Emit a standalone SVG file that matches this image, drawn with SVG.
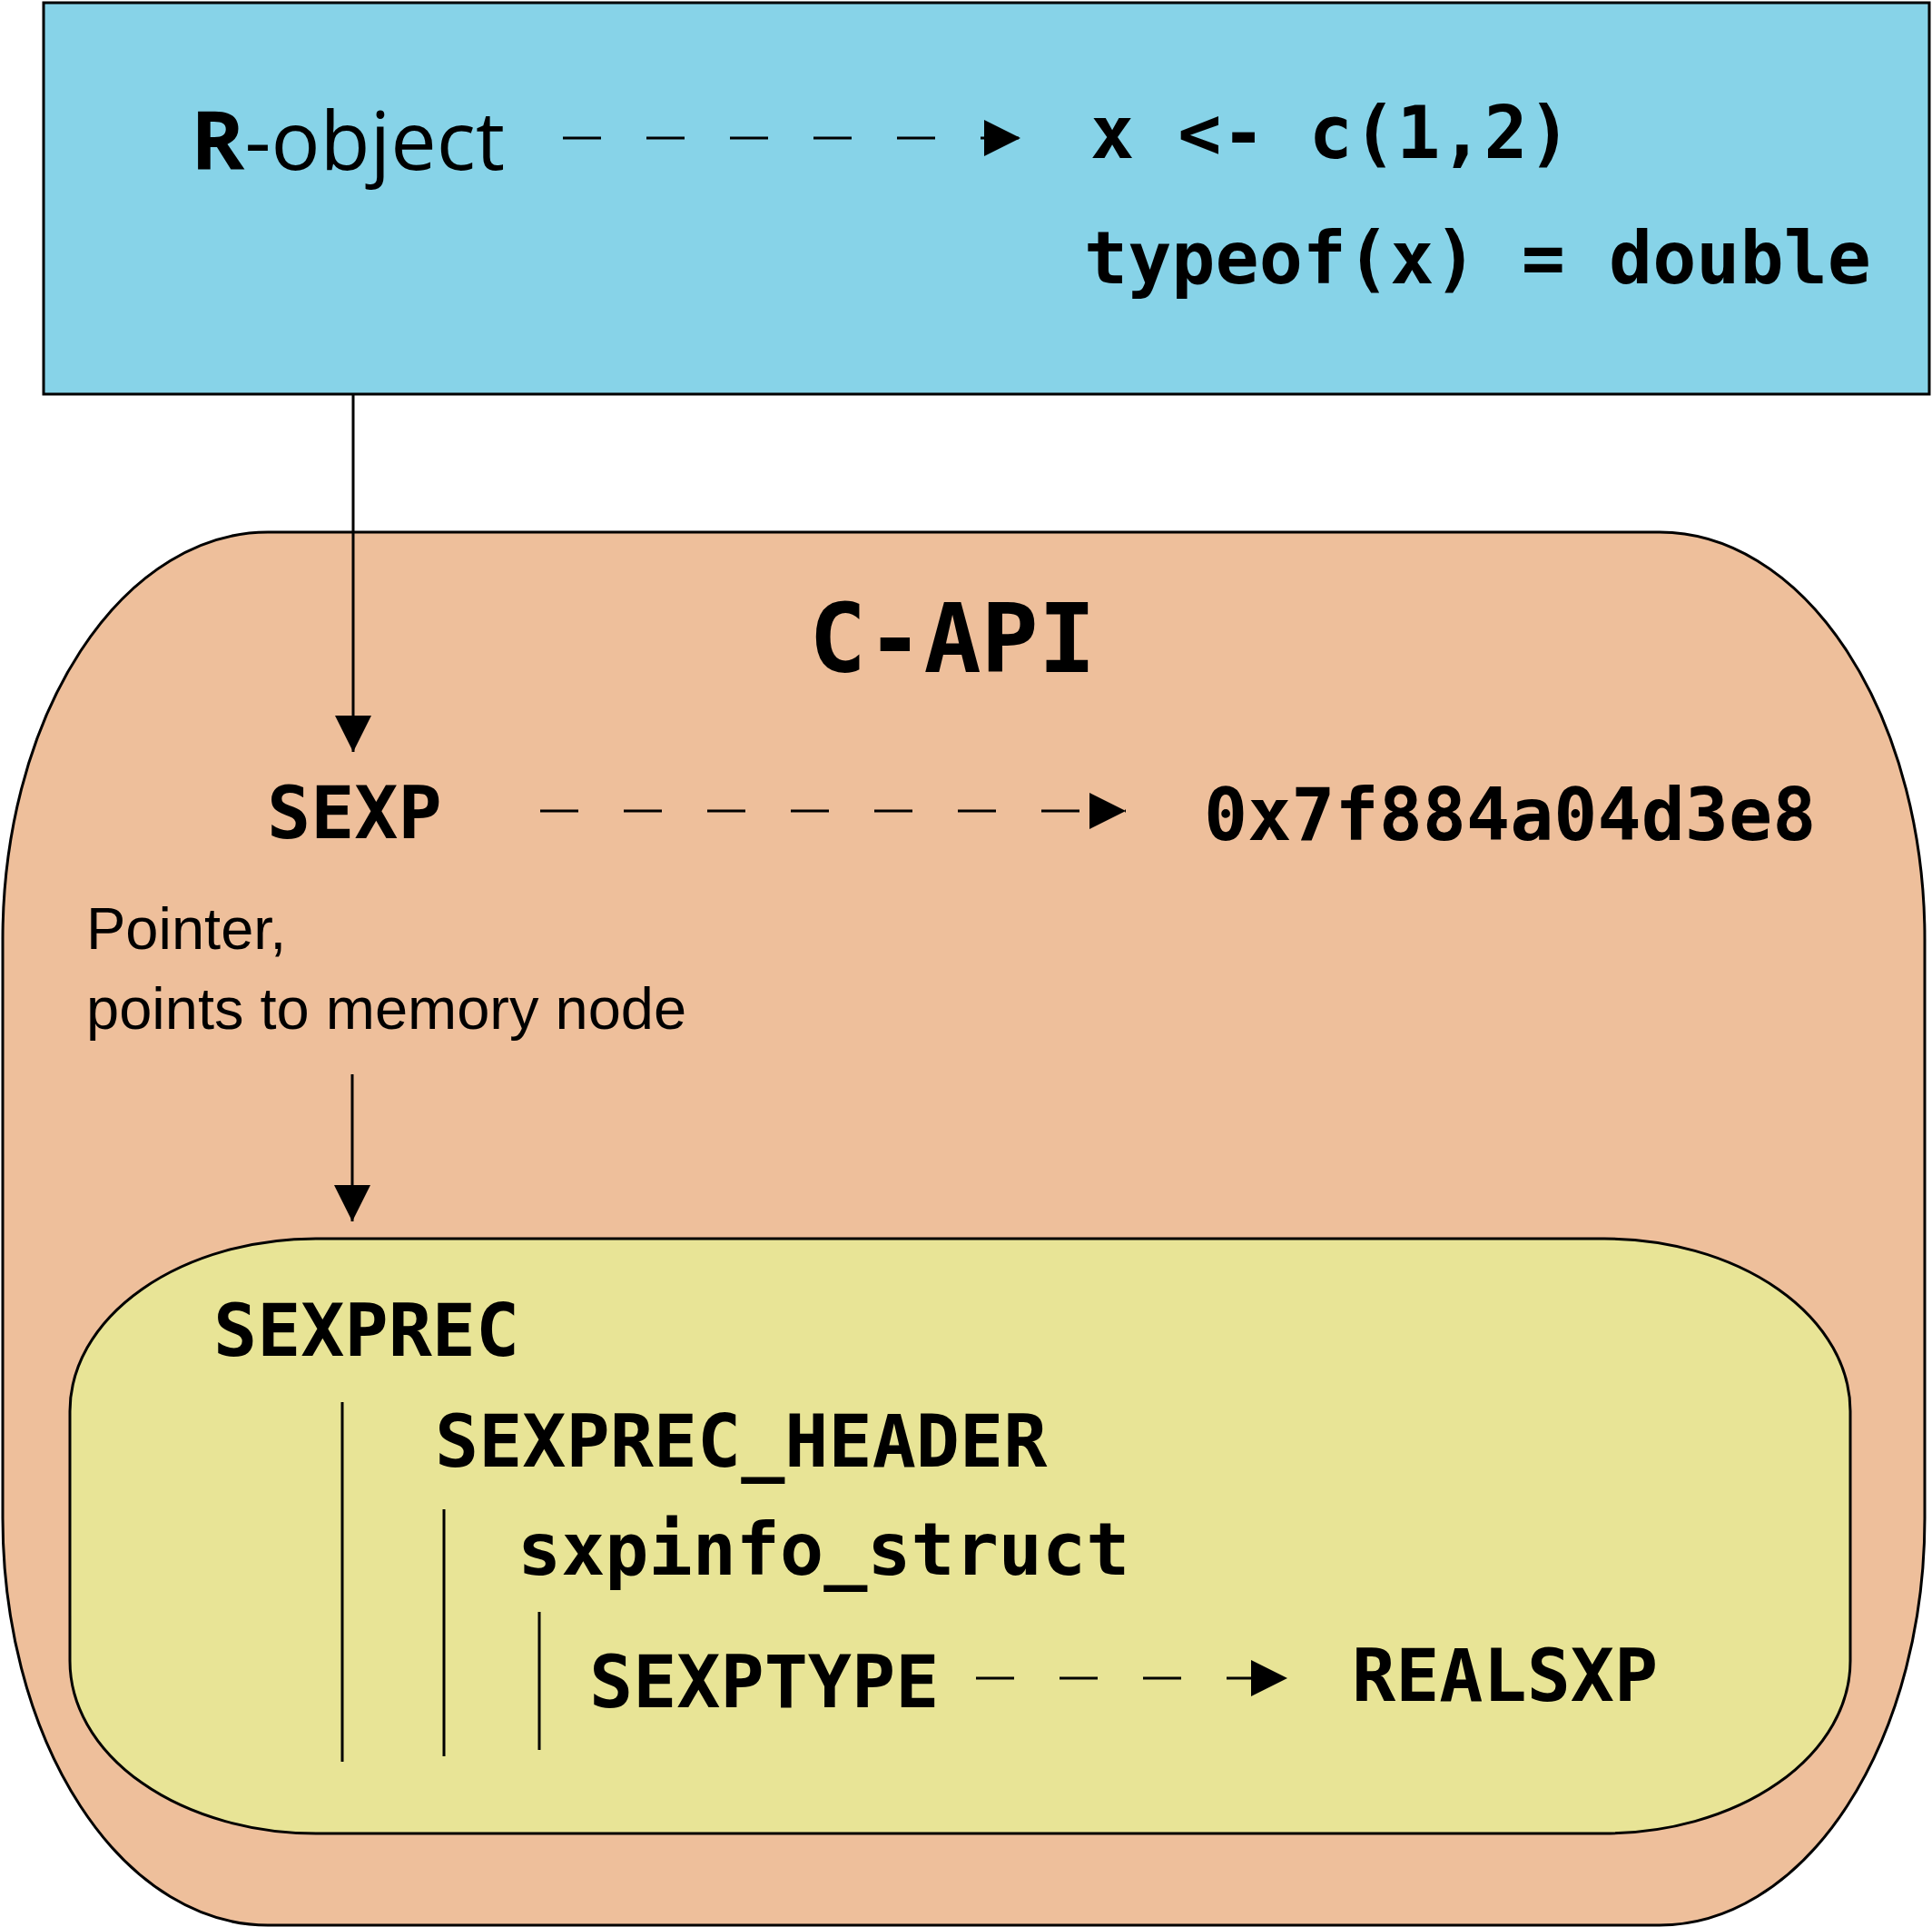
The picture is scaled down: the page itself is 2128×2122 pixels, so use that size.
<svg xmlns="http://www.w3.org/2000/svg" width="2128" height="2122" viewBox="0 0 2128 2122">
<defs>
<marker id="ah" markerWidth="10" markerHeight="10" refX="9" refY="5" orient="auto" markerUnits="userSpaceOnUse" viewBox="0 0 10 10"><path d="M0,0 L10,5 L0,10 z" fill="#000"/></marker>
<marker id="ah2" viewBox="0 0 10 10" refX="10" refY="5" markerWidth="40" markerHeight="40" orient="auto" markerUnits="userSpaceOnUse"><path d="M0,0 L10,5 L0,10 z" fill="#000"/></marker>
</defs>
<style>
.m{font-family:"DejaVu Sans Mono","Liberation Mono",monospace;font-weight:bold;font-size:80px;fill:#000}
.s{font-family:"Liberation Sans",Arial,sans-serif;font-size:65px;fill:#000}
.ln{stroke:#000;stroke-width:3;fill:none}
.d{stroke:#000;stroke-width:3;fill:none;stroke-dasharray:42 50}
</style>
<rect width="2128" height="2122" fill="#fff"/>
<g id="robject">
<rect x="48" y="3" width="2077" height="431" fill="#87d3e8" stroke="#000" stroke-width="3"/>
<text x="210" y="187" font-family="'Open Sans',sans-serif" font-size="90"><tspan font-weight="bold">R</tspan>-object</text>
<text x="1201" y="174" class="m">x &lt;- c(1,2)</text>
<text x="1194" y="312" class="m">typeof(x) = double</text>
</g>
<g id="capi">
<rect x="3" y="586" width="2117" height="1534" rx="292" ry="448" fill="#eebf9b" stroke="#000" stroke-width="3"/>
<text x="1049" y="740" class="m" font-size="105" text-anchor="middle" style="font-size:105px">C-API</text>
<text x="294" y="923" class="m">SEXP</text>
<text x="1326" y="925" class="m">0x7f884a04d3e8</text>
<text x="95" y="1045" class="s">Pointer,</text>
<text x="95" y="1133" class="s">points to memory node</text>
</g>
<g id="sexprec">
<rect x="77" y="1364" width="1961" height="655" rx="271" ry="190" fill="#e8e496" stroke="#000" stroke-width="3"/>
<text x="235" y="1493" class="m">SEXPREC</text>
<text x="479" y="1615" class="m">SEXPREC_HEADER</text>
<text x="570" y="1734" class="m">sxpinfo_struct</text>
<text x="649" y="1880" class="m">SEXPTYPE</text>
<text x="1489" y="1873" class="m">REALSXP</text>
<line x1="377" y1="1544" x2="377" y2="1940" class="ln"/>
<line x1="489" y1="1662" x2="489" y2="1934" class="ln"/>
<line x1="594" y1="1775" x2="594" y2="1927" class="ln"/>
</g>
<g id="connectors">
<line x1="620" y1="152" x2="1124" y2="152" class="d" marker-end="url(#ah2)"/>
<line x1="389" y1="434" x2="389" y2="828" class="ln" marker-end="url(#ah2)"/>
<line x1="595" y1="893" x2="1240" y2="893" class="d" marker-end="url(#ah2)"/>
<line x1="388" y1="1183" x2="388" y2="1345" class="ln" marker-end="url(#ah2)"/>
<line x1="1075" y1="1848" x2="1418" y2="1848" class="d" marker-end="url(#ah2)"/>
</g>
</svg>
